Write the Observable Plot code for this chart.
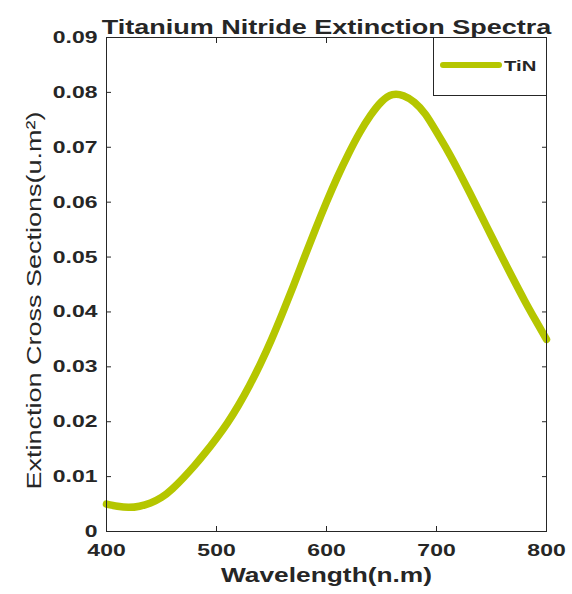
<!DOCTYPE html>
<html><head><meta charset="utf-8">
<script src="https://cdn.jsdelivr.net/npm/d3@7"></script>
<script src="https://cdn.jsdelivr.net/npm/@observablehq/plot@0.6"></script>
<style>
html,body{margin:0;padding:0;background:#fff;}
#wrap{position:relative;width:572px;height:594px;overflow:hidden;font-family:"Liberation Sans",Arial,sans-serif;background:#fff;}
#legend{position:absolute;left:433px;top:37px;width:114px;height:59px;border:1px solid #262626;background:#fff;box-sizing:border-box;}
#legend .sample{position:absolute;left:6px;top:24px;width:62px;height:6px;border-radius:3px;}
#legend .lab{position:absolute;left:70px;top:19px;font-weight:bold;font-size:15px;color:#262626;transform:scaleX(1.35);transform-origin:left center;}
</style></head><body><div id="wrap"></div>
<script>
const wavelength = [400,410,420,430,440,450,460,470,480,490,500,510,520,530,540,550,560,570,580,590,600,610,620,630,640,650,660,670,680,690,700,710,720,730,740,750,760,770,780,790,800];
const extinction = [0.0050,0.0046,0.0044,0.0046,0.0052,0.0062,0.0078,0.0098,0.0120,0.0144,0.0170,0.0198,0.0230,0.0266,0.0306,0.0350,0.0398,0.0448,0.0500,0.0551,0.0600,0.0646,0.0688,0.0726,0.0758,0.0783,0.0796,0.0794,0.0782,0.0760,0.0728,0.0694,0.0657,0.0618,0.0578,0.0538,0.0498,0.0459,0.0421,0.0385,0.0350];
const xTicks = [400,500,600,700,800];
const yTicks = [0,0.01,0.02,0.03,0.04,0.05,0.06,0.07,0.08,0.09];
const yTickLabels = ["0","0.01","0.02","0.03","0.04","0.05","0.06","0.07","0.08","0.09"];
const seriesName = "TiN";
const titleText = "Titanium Nitride Extinction Spectra";
const xLabel = "Wavelength(n.m)";
const yLabel = "Extinction Cross Sections(u.m²)";
const lineColor = "#b5c600";
const ink = "#262626";

const data = wavelength.map((w, i) => ({w, e: extinction[i]}));

const chart = Plot.plot({
  width: 572, height: 594,
  marginLeft: 106, marginRight: 26, marginTop: 37, marginBottom: 63,
  style: {fontFamily: "Liberation Sans, Arial, sans-serif", background: "#fff", color: ink},
  x: {domain: [400, 800]},
  y: {domain: [0, 0.09]},
  marks: [
    Plot.line(data, {x: "w", y: "e", stroke: lineColor, strokeWidth: 7.5, curve: "natural"}),
    Plot.frame({stroke: ink, strokeWidth: 1}),
    Plot.axisX({ticks: xTicks, anchor: "bottom", tickSize: -5, tickPadding: 17, fontSize: 17, fontWeight: "bold", label: null, tickFormat: d => String(d), ariaLabel: "xticks"}),
    Plot.axisX({ticks: xTicks.slice(1, -1), anchor: "top", tickSize: -5, label: null, tickFormat: () => null}),
    Plot.axisY({ticks: yTicks, anchor: "left", tickSize: -5, tickPadding: 14, fontSize: 17, fontWeight: "bold", label: null, tickFormat: d => yTickLabels[yTicks.indexOf(d)], ariaLabel: "yticks"}),
    Plot.axisY({ticks: yTicks.slice(1, -1), anchor: "right", tickSize: -5, label: null, tickFormat: () => null}),
    Plot.text([titleText], {frameAnchor: "top", dy: -18, fontSize: 20, fontWeight: "bold", fill: ink, ariaLabel: "title"}),
    Plot.text([xLabel], {frameAnchor: "bottom", dy: 50, fontSize: 19.5, fontWeight: "bold", fill: ink, ariaLabel: "xlabel"}),
    Plot.text([yLabel], {frameAnchor: "left", textAnchor: "middle", rotate: -90, dx: -72, dy: 16, fontSize: 20, fill: ink, ariaLabel: "ylabel"})
  ]
});

const wrap = document.getElementById("wrap");
wrap.appendChild(chart);

// reproduce the stretched lettering of the source image
chart.querySelectorAll("text").forEach(t => {
  const g = t.closest("g[aria-label]");
  const lab = g ? g.getAttribute("aria-label") : "";
  const len = t.getComputedTextLength();
  if (!(len > 0)) return;
  if (lab === "ylabel") {
    const tr = t.getAttribute("transform") || "";
    t.setAttribute("transform", tr + ` scale(${372 / len},1)`);
  } else {
    t.setAttribute("textLength", len * 1.35);
    t.setAttribute("lengthAdjust", "spacingAndGlyphs");
  }
});

const legend = document.createElement("div");
legend.id = "legend";
legend.innerHTML = `<div class="sample" style="background:${lineColor}"></div><div class="lab">${seriesName}</div>`;
wrap.appendChild(legend);
</script>
</body></html>
